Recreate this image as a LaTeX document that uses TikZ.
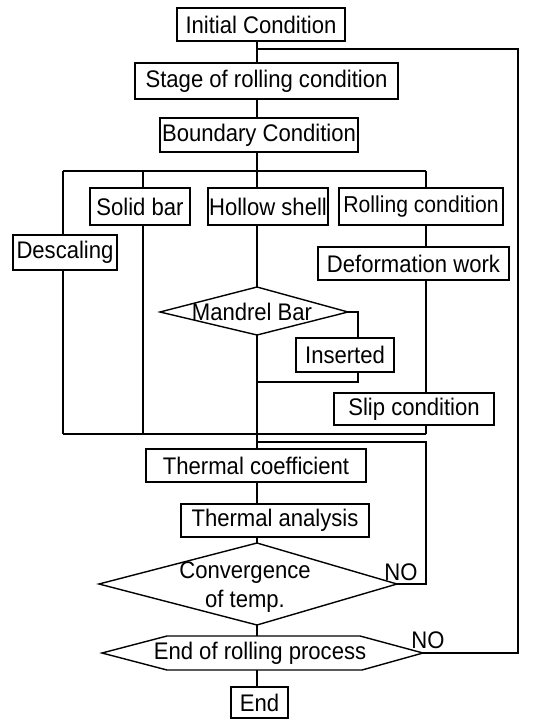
\documentclass[tikz,border=0pt]{standalone}
\usepackage{fontspec}
\setmainfont[FakeStretch=0.92]{Liberation Sans}
\begin{document}
\begin{tikzpicture}[x=1pt,y=-1pt, line width=1.4pt,
  box/.style={draw, line width=1.4pt, inner sep=0pt, font=\fontsize{24}{28}\selectfont},
  lbl/.style={inner sep=0pt, font=\fontsize{24}{29}\selectfont, align=center}]
\useasboundingbox (0,0) rectangle (534,720);
% boxes
\node[box, minimum width=168pt, minimum height=33pt] (init) at (261,24.5) {Initial Condition};
\node[box, minimum width=263pt, minimum height=36pt] (stage) at (266.5,81) {Stage of rolling condition};
\node[box, minimum width=198pt, minimum height=34pt] (bound) at (259,135) {Boundary Condition};
\node[box, minimum width=100pt, minimum height=37pt] (solid) at (140,206.5) {Solid bar};
\node[box, minimum width=120pt, minimum height=37pt] (hollow) at (268,206.5) {Hollow shell};
\node[box, minimum width=164pt, minimum height=37pt, font=\fontsize{23}{27}\selectfont] (rollc) at (421,206.5) {Rolling condition};
\node[box, minimum width=104pt, minimum height=35pt] (desc) at (65,252.5) {Descaling};
\node[box, minimum width=191pt, minimum height=33pt] (deform) at (413.5,263.5) {Deformation work};
\node[box, minimum width=98pt, minimum height=34pt] (ins) at (345,355) {Inserted};
\node[box, minimum width=160pt, minimum height=32pt] (slip) at (414,409) {Slip condition};
\node[box, minimum width=220pt, minimum height=33pt] (thcoef) at (256,465.5) {Thermal coefficient};
\node[box, minimum width=188pt, minimum height=33pt] (than) at (275,520.5) {Thermal analysis};
\node[box, minimum width=57pt, minimum height=31pt] (end) at (259.5,702.5) {End};
% coordinates
\coordinate (mx) at (257,0);
\coordinate (ltop) at (257,49);
\coordinate (lcorner) at (518,653);
\coordinate (br) at (257,171);
\coordinate (bl) at (63,171);
\coordinate (sx) at (143,171);
\coordinate (brr) at (426,171);
\coordinate (jl) at (63,434);
\coordinate (js) at (143,434);
\coordinate (jm) at (257,434);
\coordinate (jr) at (426,434);
% mandrel diamond
\coordinate (mT) at (257,287);
\coordinate (mR) at (348,312);
\coordinate (mB) at (257,335);
\coordinate (mL) at (160,312);
\coordinate (mr2) at (358,312);
\coordinate (mr3) at (358,382);
\coordinate (mj) at (257,382);
% convergence diamond
\coordinate (cT) at (257,543);
\coordinate (cR) at (397,584);
\coordinate (cB) at (257,625);
\coordinate (cL) at (99,584);
\coordinate (lj) at (257,442);
\coordinate (lc2) at (426,584);
% hexagon
\coordinate (hexL) at (102,653);
\coordinate (hexTL) at (167,636);
\coordinate (hexTR) at (360,636);
\coordinate (hexR) at (423,653);
\coordinate (hexBR) at (362,670);
\coordinate (hexBL) at (167,670);
\coordinate (hT) at (257,636);
\coordinate (hB) at (257,670);
% shapes
\draw (mT) -- (mR) -- (mB) -- (mL) -- cycle;
\node[lbl] (mtext) at (252,312) {Mandrel Bar};
\draw (cT) -- (cR) -- (cB) -- (cL) -- cycle;
\node[lbl] (ctext) at (245,587) {Convergence\\of temp.};
\draw (hexL) -- (hexTL) -- (hexTR) -- (hexR) -- (hexBR) -- (hexBL) -- cycle;
\node[lbl] (htext) at (260,653) {End of rolling process};
% connectors
\draw (init.south -| mx) -- (stage.north -| mx);
\draw (stage.south -| mx) -- (bound.north -| mx);
\draw (bound.south -| mx) -- (br);
\draw (bl) -- (brr);
\draw (bl) -- (desc.north -| bl);
\draw (desc.south -| bl) -- (jl);
\draw (sx) -- (solid.north -| sx);
\draw (solid.south -| sx) -- (js);
\draw (br) -- (hollow.north -| mx);
\draw (hollow.south -| mx) -- (mT);
\draw (brr) -- (rollc.north -| brr);
\draw (rollc.south -| brr) -- (deform.north -| brr);
\draw (deform.south -| brr) -- (slip.north -| brr);
\draw (slip.south -| brr) -- (jr);
\draw (jl) -- (jr);
\draw (mB) -- (jm);
\draw (mR) -- (mr2) -- (ins.north -| mr2);
\draw (ins.south -| mr2) -- (mr3) -- (mj);
\draw (jm) -- (thcoef.north -| mx);
\draw (lj) -| (lc2) -- (cR);
\draw (thcoef.south -| mx) -- (than.north -| mx);
\draw (than.south -| mx) -- (cT);
\draw (cB) -- (hT);
\draw (hB) -- (end.north -| mx);
\draw (ltop) -| (lcorner) -- (hexR);
% labels
\node[lbl] (no1) at (401,572) {NO};
\node[lbl] (no2) at (428,640) {NO};
\end{tikzpicture}
\end{document}
